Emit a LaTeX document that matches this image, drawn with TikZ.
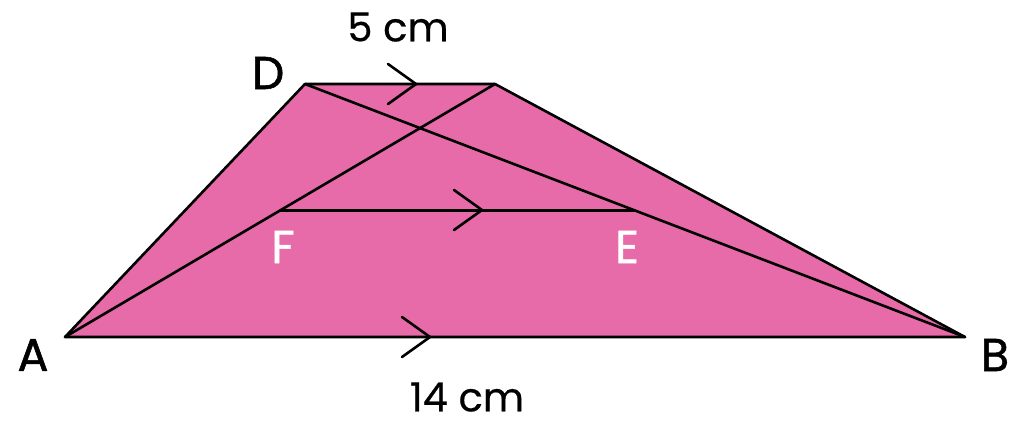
\documentclass[tikz,border=0pt]{standalone}
\usepackage{fontspec}
\setmainfont{Poppins}
\newfontfamily\ptfont[FakeBold=1.2]{Poppins}
\newfontfamily\lenfont[FakeBold=0.5]{Poppins}
\usepackage{tikz}
\usetikzlibrary{calc}
\definecolor{trapfill}{HTML}{E76BA8}
\tikzset{
    edge/.style={line width=2.6pt,line cap=round,line join=round},
    chev/.style={line width=2.6pt,line cap=round,line join=miter},
    ptlabel/.style={font=\ptfont\fontsize{46}{50}\selectfont,inner sep=0pt},
    lenlabel/.style={font=\lenfont\fontsize{40}{44}\selectfont,inner sep=0pt}
}
\begin{document}
\begin{tikzpicture}[x=1pt,y=-1pt]
        \useasboundingbox (0,0) rectangle (1024,432);
        % vertices of the trapezium
        \coordinate (A) at (65,337);
        \coordinate (B) at (965,337);
        \coordinate (C) at (495,84);
        \coordinate (D) at (305,84);
        \coordinate (F) at ($(A)!0.5!(C)$);
        \coordinate (E) at ($(D)!0.5!(B)$);
        \fill[trapfill] (A) -- (B) -- (C) -- (D) -- cycle;
        \draw[edge] (A) -- (B) -- (C) -- (D) -- cycle;
        \draw[edge] (A) -- (C);
        \draw[edge] (D) -- (B);
        \draw[edge] (F) -- (E);
        % parallel marks
        \foreach \tx/\ty in {416/84, 482/210, 430/337} {
            \draw[chev] (\tx-28,\ty-20) -- (\tx,\ty) -- (\tx-28,\ty+20);
        }
        % labels
        \node[ptlabel] (lA) at (33,355) {A};
        \node[ptlabel] (lB) at (995,355) {B};
        \node[ptlabel] (lD) at (268,73) {D};
        \node[ptlabel,white] (lF) at (283,247) {F};
        \node[ptlabel,white] (lE) at (627,247) {E};
        \node[lenlabel] (top) at (398,27) {5 cm};
        \node[lenlabel] (bot) at (467,397) {14 cm};
    \end{tikzpicture}
\end{document}
